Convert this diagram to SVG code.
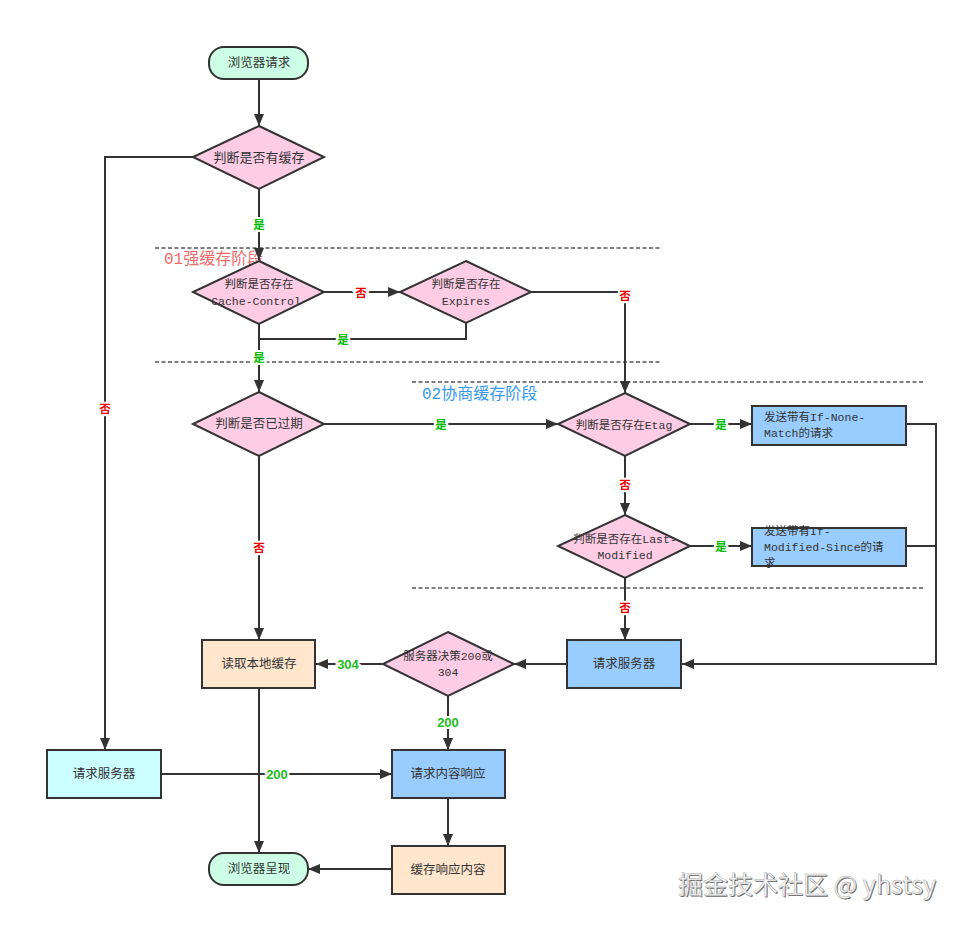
<svg xmlns="http://www.w3.org/2000/svg" width="967" height="925" viewBox="0 0 967 925">
<style>
.n{stroke:#333;stroke-width:2}
.dia{fill:#ffcce6}
.term{fill:#ccffe6}
.peach{fill:#ffe6cc}
.blue{fill:#99ccff}
.cyan{fill:#ccffff}
.t{font-family:"Liberation Sans","Noto Sans CJK SC",sans-serif;font-size:12.5px;fill:#333;text-anchor:middle;dominant-baseline:central}
.m{font-family:"Liberation Mono","Noto Sans CJK SC",monospace;font-size:11.5px;fill:#333;dominant-baseline:central}
.c{text-anchor:middle}
.e{fill:none;stroke:#333;stroke-width:2}
.dash{stroke:#555;stroke-width:1.3;stroke-dasharray:4 2.5}
.lab{font-family:"Noto Sans CJK SC",sans-serif;font-size:11.5px;font-weight:bold;text-anchor:middle;dominant-baseline:central;stroke:#fff;stroke-width:4;paint-order:stroke}
.y{fill:#00bb00}
.no{fill:#ee0000}
.num{font-family:"Liberation Sans",sans-serif;font-size:13px;font-weight:bold;fill:#22bb22;text-anchor:middle;dominant-baseline:central;stroke:#fff;stroke-width:4;paint-order:stroke}
.stage{font-family:"Liberation Mono","Noto Sans CJK SC",monospace;font-size:16px}
</style>
<defs>
<marker id="a" viewBox="0 0 12 10" refX="12" refY="5" markerWidth="12" markerHeight="10" markerUnits="userSpaceOnUse" orient="auto">
<path d="M0,0 L12,5 L0,10 z" fill="#333"/>
</marker>
</defs>
<rect width="967" height="925" fill="#fff"/>

<g id="stages">
<line class="dash" x1="155" y1="248" x2="660" y2="248"/>
<line class="dash" x1="155" y1="362" x2="660" y2="362"/>
<line class="dash" x1="412" y1="382" x2="925" y2="382"/>
<line class="dash" x1="412" y1="588" x2="925" y2="588"/>
<text class="stage" x="164" y="264" fill="#f06a6a">01强缓存阶段</text>
<text class="stage" x="422" y="399" fill="#3399ee">02协商缓存阶段</text>
</g>

<g id="connectors">
<path class="e" d="M259,79 V126" marker-end="url(#a)"/>
<path class="e" d="M193,157 H105 V750" marker-end="url(#a)"/>
<path class="e" d="M259,189 V260" marker-end="url(#a)"/>
<path class="e" d="M324,292 H400" marker-end="url(#a)"/>
<path class="e" d="M531,292 H625 V393" marker-end="url(#a)"/>
<path class="e" d="M466,323 V339 H259"/>
<path class="e" d="M259,324 V392" marker-end="url(#a)"/>
<path class="e" d="M324,424 H558" marker-end="url(#a)"/>
<path class="e" d="M690,424 H752" marker-end="url(#a)"/>
<path class="e" d="M625,456 V515" marker-end="url(#a)"/>
<path class="e" d="M690,546 H752" marker-end="url(#a)"/>
<path class="e" d="M906,424 H936 V664 H682" marker-end="url(#a)"/>
<path class="e" d="M906,546 H936"/>
<path class="e" d="M625,578 V640" marker-end="url(#a)"/>
<path class="e" d="M567,664 H514" marker-end="url(#a)"/>
<path class="e" d="M383,664 H316" marker-end="url(#a)"/>
<path class="e" d="M259,456 V640" marker-end="url(#a)"/>
<path class="e" d="M259,688 V853" marker-end="url(#a)"/>
<path class="e" d="M448,696 V750" marker-end="url(#a)"/>
<path class="e" d="M161,774 H392" marker-end="url(#a)"/>
<path class="e" d="M448,798 V846" marker-end="url(#a)"/>
<path class="e" d="M392,869 H308" marker-end="url(#a)"/>
<text class="lab y" x="259" y="224">是</text>
<text class="lab no" x="105" y="408">否</text>
<text class="lab no" x="361" y="292">否</text>
<text class="lab no" x="625" y="295">否</text>
<text class="lab y" x="343" y="339">是</text>
<text class="lab y" x="259" y="357">是</text>
<text class="lab y" x="441" y="424">是</text>
<text class="lab y" x="721" y="424">是</text>
<text class="lab no" x="625" y="484">否</text>
<text class="lab y" x="721" y="546">是</text>
<text class="lab no" x="625" y="607">否</text>
<text class="lab no" x="259" y="547">否</text>
<text class="num" x="348" y="664">304</text>
<text class="num" x="448" y="722">200</text>
<text class="num" x="277" y="774">200</text>
</g>

<g id="start">
<rect class="n term" x="209" y="47" width="99" height="32" rx="15"/>
<text class="t" x="259" y="63">浏览器请求</text>
</g>
<g id="hasCache">
<polygon class="n dia" points="259,126 324,157 259,189 193,157"/>
<text class="t" x="259" y="157" style="font-size:13px">判断是否有缓存</text>
</g>
<g id="cacheControl">
<polygon class="n dia" points="259,261 324,292 259,324 193,292"/>
<text class="m c" x="259" y="284">判断是否存在</text>
<text class="m c" x="256" y="301">Cache-Control</text>
</g>
<g id="expires">
<polygon class="n dia" points="466,261 531,292 466,323 400,292"/>
<text class="m c" x="466" y="284">判断是否存在</text>
<text class="m c" x="466" y="301">Expires</text>
</g>
<g id="expired">
<polygon class="n dia" points="259,392 324,424 259,456 193,424"/>
<text class="t" x="259" y="424">判断是否已过期</text>
</g>
<g id="etag">
<polygon class="n dia" points="625,393 690,424 625,456 558,424"/>
<text class="m c" x="624" y="425">判断是否存在Etag</text>
</g>
<g id="lastModified">
<polygon class="n dia" points="625,515 690,546 625,578 558,546"/>
<text class="m c" x="625" y="539">判断是否存在Last-</text>
<text class="m c" x="625" y="555">Modified</text>
</g>
<g id="ifNoneMatch">
<rect class="n blue" x="752" y="406" width="154" height="39"/>
<text class="m" x="764" y="417">发送带有If-None-</text>
<text class="m" x="764" y="433">Match的请求</text>
</g>
<g id="ifModifiedSince">
<rect class="n blue" x="752" y="528" width="154" height="38"/>
<text class="m" x="764" y="531">发送带有If-</text>
<text class="m" x="764" y="547">Modified-Since的请</text>
<text class="m" x="764" y="563">求</text>
</g>
<g id="requestServer2">
<rect class="n blue" x="567" y="640" width="114" height="48"/>
<text class="t" x="624" y="664">请求服务器</text>
</g>
<g id="decide">
<polygon class="n dia" points="448,632 514,664 448,696 383,664"/>
<text class="m c" x="448" y="656">服务器决策200或</text>
<text class="m c" x="448" y="672">304</text>
</g>
<g id="readLocal">
<rect class="n peach" x="202" y="640" width="113" height="48"/>
<text class="t" x="259" y="664">读取本地缓存</text>
</g>
<g id="requestServer1">
<rect class="n cyan" x="47" y="750" width="114" height="48"/>
<text class="t" x="104" y="774">请求服务器</text>
</g>
<g id="response">
<rect class="n blue" x="392" y="750" width="113" height="48"/>
<text class="t" x="448" y="774">请求内容响应</text>
</g>
<g id="cacheResponse">
<rect class="n peach" x="392" y="846" width="113" height="48"/>
<text class="t" x="448" y="870">缓存响应内容</text>
</g>
<g id="end">
<rect class="n term" x="209" y="853" width="99" height="32" rx="15"/>
<text class="t" x="259" y="869">浏览器呈现</text>
</g>

<g id="watermark" font-family="Noto Sans CJK SC, sans-serif" font-size="25">
<text x="679" y="895" fill="#666">掘金技术社区 @ yhstsy</text>
<text x="678" y="894" fill="#fafafa" stroke="#aaa" stroke-width="0.5">掘金技术社区 @ yhstsy</text>
</g>
</svg>
